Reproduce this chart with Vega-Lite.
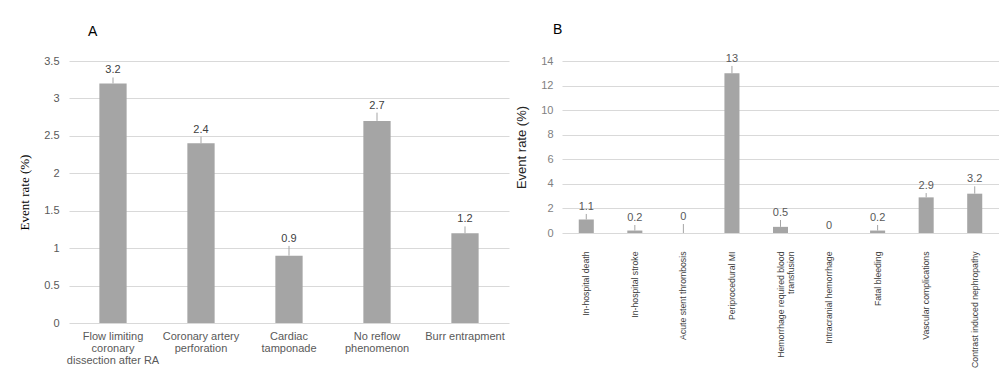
{
  "$schema": "https://vega.github.io/schema/vega-lite/v6.json",
  "autosize": {"type": "pad"},
  "padding": {"left": 18, "top": 22, "right": 0, "bottom": 0},
  "background": "white",
  "bounds": "flush",
  "spacing": 53,
  "config": {
    "view": {"stroke": null},
    "font": "Liberation Sans",
    "axis": {
      "labelFont": "Liberation Sans",
      "labelColor": "#595959",
      "labelFontSize": 11,
      "labelOverlap": false,
      "ticks": false,
      "gridColor": "#d9d9d9",
      "gridWidth": 1,
      "domainColor": "#d9d9d9"
    },
    "title": {"font": "Liberation Sans", "fontSize": 14, "fontWeight": "normal", "color": "#000000", "anchor": "start", "frame": "group"}
  },
  "datasets": {
    "procedural": [
      {"event": "Flow limiting coronary dissection after RA", "rate": 3.2, "upper": 3.28},
      {"event": "Coronary artery perforation", "rate": 2.4, "upper": 2.49},
      {"event": "Cardiac tamponade", "rate": 0.9, "upper": 1.03},
      {"event": "No reflow phenomenon", "rate": 2.7, "upper": 2.81},
      {"event": "Burr entrapment", "rate": 1.2, "upper": 1.29}
    ],
    "inhospital": [
      {"event": "In-hospital death", "rate": 1.1, "upper": 1.55},
      {"event": "In-hospital stroke", "rate": 0.2, "upper": 0.65},
      {"event": "Acute stent thrombosis", "rate": 0, "upper": 0.73},
      {"event": "Periprocedural MI", "rate": 13, "upper": 13.6},
      {"event": "Hemorrhage required blood transfusion", "rate": 0.5, "upper": 1.06},
      {"event": "Intracranial hemorrhage", "rate": 0, "upper": 0},
      {"event": "Fatal bleeding", "rate": 0.2, "upper": 0.65},
      {"event": "Vascular complications", "rate": 2.9, "upper": 3.25},
      {"event": "Contrast induced nephropathy", "rate": 3.2, "upper": 3.8}
    ]
  },
  "hconcat": [
    {
      "width": 440,
      "height": 262,
      "title": {"text": "A", "dx": 19, "offset": 5, "baseline": "alphabetic"},
      "data": {"name": "procedural"},
      "encoding": {
        "x": {
          "field": "event",
          "type": "nominal",
          "sort": null,
          "scale": {"paddingInner": 0.69, "paddingOuter": 0.345},
          "axis": {
            "title": null,
            "labelAngle": 0,
            "labelPadding": 7,
            "labelLineHeight": 12.3,
            "labelBaseline": "top",
            "domain": false,
            "labelExpr": "datum.label == 'Flow limiting coronary dissection after RA' ? ['Flow limiting', 'coronary', 'dissection after RA'] : datum.label == 'Coronary artery perforation' ? ['Coronary artery', 'perforation'] : datum.label == 'Cardiac tamponade' ? ['Cardiac', 'tamponade'] : datum.label == 'No reflow phenomenon' ? ['No reflow', 'phenomenon'] : datum.label"
          }
        },
        "y": {
          "field": "rate",
          "type": "quantitative",
          "scale": {"domain": [0, 3.5]},
          "axis": {
            "title": "Event rate (%)",
            "titleFont": "Liberation Serif",
            "titleFontSize": 13,
            "titleFontWeight": "normal",
            "titleColor": "#000000",
            "titlePadding": 12,
            "values": [0, 0.5, 1, 1.5, 2, 2.5, 3, 3.5],
            "format": "~g",
            "labelPadding": 10,
            "domain": false
          }
        }
      },
      "layer": [
        {"mark": {"type": "bar", "color": "#a5a5a5"}},
        {
          "mark": {"type": "rule", "color": "#a5a5a5", "strokeWidth": 1},
          "encoding": {"y2": {"field": "upper"}}
        },
        {
          "mark": {"type": "text", "baseline": "alphabetic", "dy": -4, "fontSize": 11, "color": "#404040"},
          "encoding": {
            "y": {
              "field": "upper",
              "type": "quantitative",
              "axis": {
                "title": "Event rate (%)",
                "titleFont": "Liberation Serif",
                "titleFontSize": 13,
                "titleFontWeight": "normal",
                "titleColor": "#000000",
                "titlePadding": 12,
                "values": [0, 0.5, 1, 1.5, 2, 2.5, 3, 3.5],
                "format": "~g",
                "labelPadding": 10,
                "domain": false
              }
            },
            "text": {"field": "rate", "type": "quantitative"}
          }
        }
      ]
    },
    {
      "width": 437,
      "height": 172,
      "title": {"text": "B", "dx": -9, "offset": 5, "baseline": "alphabetic"},
      "data": {"name": "inhospital"},
      "encoding": {
        "x": {
          "field": "event",
          "type": "nominal",
          "sort": null,
          "scale": {"paddingInner": 0.69, "paddingOuter": 0.345},
          "axis": {
            "title": null,
            "labelAngle": -90,
            "labelAlign": "right",
            "labelBaseline": "middle",
            "labelPadding": 18,
            "labelFontSize": 8.7,
            "labelColor": "#404040",
            "labelLineHeight": 10,
            "labelLimit": 200,
            "domain": false,
            "labelExpr": "datum.label == 'Hemorrhage required blood transfusion' ? ['Hemorrhage required blood', 'transfusion'] : datum.label"
          }
        },
        "y": {
          "field": "rate",
          "type": "quantitative",
          "scale": {"domain": [0, 14]},
          "axis": {
            "title": "Event rate (%)",
            "titleFont": "Liberation Sans",
            "titleFontSize": 13,
            "titleFontWeight": "normal",
            "titleColor": "#262626",
            "titlePadding": 12,
            "values": [0, 2, 4, 6, 8, 10, 12, 14],
            "labelColor": "#7f7f7f",
            "labelPadding": 9,
            "domain": false
          }
        }
      },
      "layer": [
        {"mark": {"type": "bar", "color": "#a5a5a5"}},
        {
          "mark": {"type": "rule", "color": "#a5a5a5", "strokeWidth": 1},
          "encoding": {"y2": {"field": "upper"}}
        },
        {
          "mark": {"type": "text", "baseline": "alphabetic", "dy": -4, "fontSize": 11, "color": "#595959"},
          "encoding": {
            "y": {
              "field": "upper",
              "type": "quantitative",
              "axis": {
                "title": "Event rate (%)",
                "titleFont": "Liberation Sans",
                "titleFontSize": 13,
                "titleFontWeight": "normal",
                "titleColor": "#262626",
                "titlePadding": 12,
                "values": [0, 2, 4, 6, 8, 10, 12, 14],
                "labelColor": "#7f7f7f",
                "labelPadding": 9,
                "domain": false
              }
            },
            "text": {"field": "rate", "type": "quantitative"}
          }
        }
      ]
    }
  ]
}
